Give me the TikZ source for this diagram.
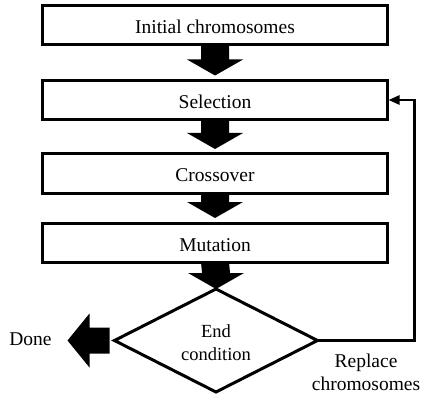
\documentclass[tikz,border=0pt]{standalone}
\usepackage{fontspec}
\setmainfont{Liberation Serif}
\usetikzlibrary{shapes.geometric,arrows.meta,calc}
\newcommand\bigarrow[3]{%
  \fill ($(#1.south)+(-14,0)$) -- ($(#2.north)+(-14,-#3-16)$) -- ($(#2.north)+(-28,-#3-16)$)
    -- ($(#2.north)+(0,-#3)$) -- ($(#2.north)+(28,-#3-16)$) -- ($(#2.north)+(14,-#3-16)$)
    -- ($(#1.south)+(14,0)$) -- cycle;}
\begin{document}
\begin{tikzpicture}[x=1pt,y=-1pt,
  every node/.style={font=\fontsize{19.5}{23}\selectfont},
  box/.style={draw, line width=3pt, minimum width=345pt, minimum height=39pt, inner sep=0pt, outer sep=0pt,
    text height=17pt, text depth=0pt},
  cond/.style={diamond, draw, line width=3pt, aspect=2, minimum width=203pt, minimum height=103pt,
    inner sep=0pt, outer sep=0pt},
  condtext/.style={align=center, font=\fontsize{18.5}{23}\selectfont},
  loopline/.style={line width=2.5pt, -{Triangle[length=11pt,width=9pt]}, shorten >=1pt}]
\useasboundingbox (0,0) rectangle (422,395);
\node[box] (init) at (215,25) {Initial chromosomes};
\node[box] (sel) at (215,100) {Selection};
\node[box] (cross) at (215,173.5) {Crossover};
\node[box] (mut) at (215,242.5) {Mutation};
\node[cond] (cond) at (216,340.5) {};
\node[condtext] (condlabel) at (216,342.5) {End\\condition};
\node (done) at (30.5,339) {Done};
\node[align=center] (rep) at (366,372) {Replace\\chromosomes};
\bigarrow{init}{sel}{5}
\bigarrow{sel}{cross}{5}
\bigarrow{cross}{mut}{5}
\bigarrow{mut}{cond}{0}
\fill ($(cond.west)+(-5,-13)$) -- ($(cond.west)+(-25,-13)$) -- ($(cond.west)+(-25,-27)$)
  -- ($(cond.west)+(-47,0)$) -- ($(cond.west)+(-25,27)$) -- ($(cond.west)+(-25,13)$)
  -- ($(cond.west)+(-5,13)$) -- cycle;
\coordinate (lp) at (414.5,100);
\draw[loopline] (cond.east) -| (lp) -- (sel.east);
\end{tikzpicture}
\end{document}
